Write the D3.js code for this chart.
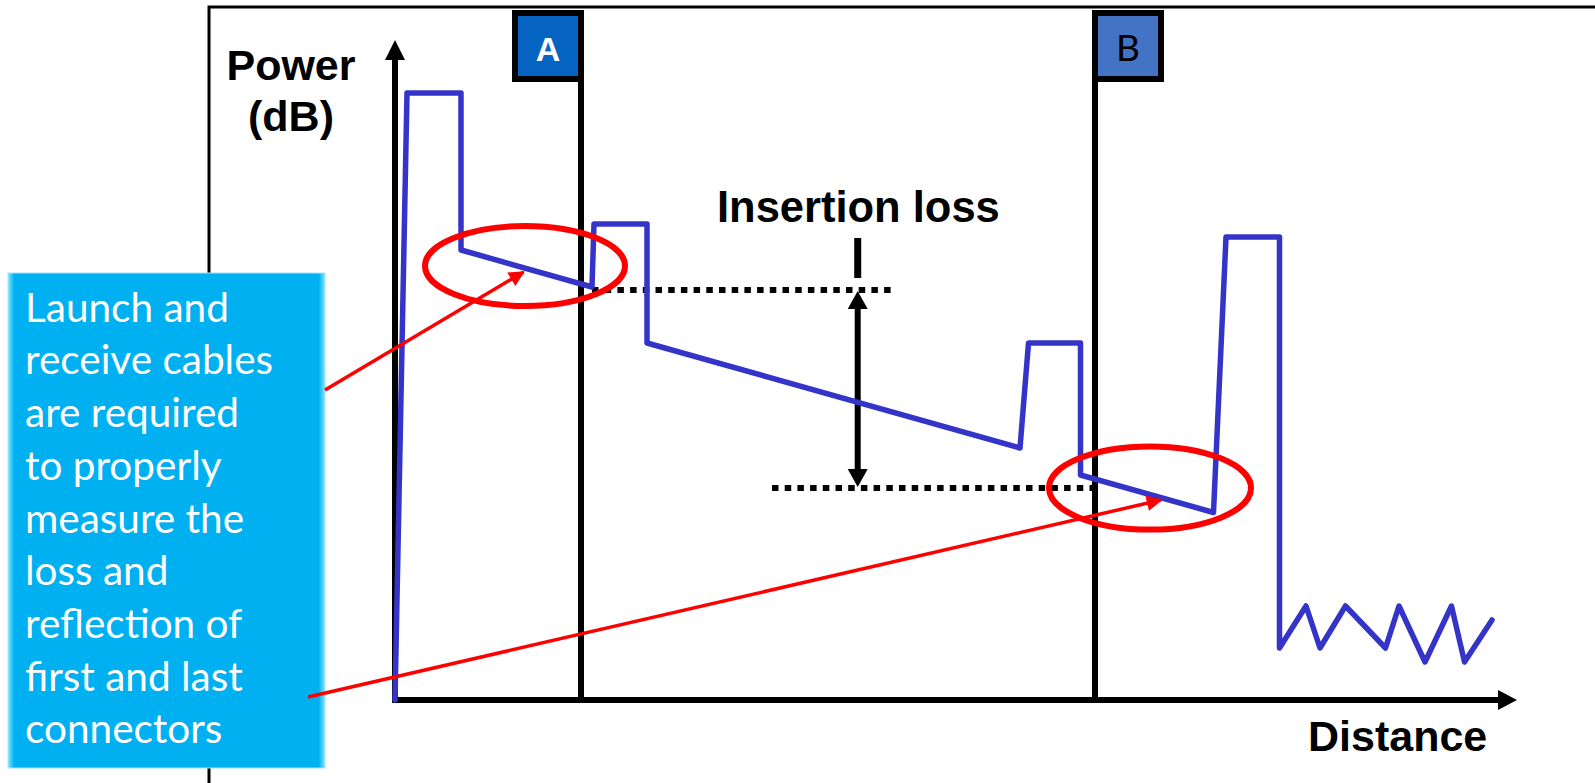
<!DOCTYPE html>
<html lang="en">
<head>
<meta charset="UTF-8">
<title>OTDR trace</title>
<script src="https://d3js.org/d3.v7.min.js"></script>
<style>
  html, body { margin: 0; padding: 0; background: #ffffff; }
  svg { display: block; }
</style>
</head>
<body>
<div id="chart"></div>
<script>
// OTDR trace (distance in km-like units, power in dB)
const distance = [0, 0.12, 0.66, 0.66, 1.97, 1.99, 2.52, 2.52, 6.25, 6.335, 6.855, 6.855,
                  8.185, 8.31, 8.845, 8.845, 9.11, 9.25, 9.505, 9.905, 10.04, 10.3, 10.565, 10.695, 10.97];
const power    = [0, 30.35, 30.35, 22.5, 20.65, 23.8, 23.8, 17.85, 12.6, 17.85, 17.85, 11.25,
                  9.375, 23.15, 23.15, 2.6, 4.7, 2.6, 4.7, 2.6, 4.7, 1.9, 4.7, 1.9, 4.0];

const connectorNames = ["A", "B"];
const connectorDistance = [1.86, 7.0];

// insertion loss reference levels (dB) and the span of each dotted line
const lossLevels = [20.5, 10.6];
const lossFrom = [1.97, 3.77];
const lossTo = [4.96, 6.97];
const lossArrowAt = 4.627;

// red ellipses around first / last connector: centre and radii in data units
const ringDistance = [1.30, 7.55];
const ringPower = [21.7, 10.6];
const ringRx = [1.0, 1.01];
const ringRy = [2.0, 2.08];

const calloutLines = ["Launch and", "receive cables", "are required", "to properly",
                      "measure the", "loss and", "reflection of", "first and last", "connectors"];

const width = 1595, height = 783;
const traceColor = "#3434c8";
const red = "#ff0000";

const x = d3.scaleLinear().domain([0, 11]).range([395, 1495]);
const y = d3.scaleLinear().domain([0, 33]).range([700, 40]);

const svg = d3.select("#chart").append("svg")
    .attr("width", width)
    .attr("height", height);

const defs = svg.append("defs");
defs.append("marker")
    .attr("id", "redHead")
    .attr("viewBox", "0 0 10 10")
    .attr("refX", 9).attr("refY", 5)
    .attr("markerWidth", 5).attr("markerHeight", 4.5)
    .attr("markerUnits", "strokeWidth")
    .attr("orient", "auto")
    .append("path").attr("d", "M0,0 L10,5 L0,10 z").attr("fill", red);

const edge = defs.append("linearGradient").attr("id", "boxEdge")
    .attr("x1", 0).attr("x2", 1).attr("y1", 0).attr("y2", 0);
edge.append("stop").attr("offset", "0").attr("stop-color", "#7fe6ff");
edge.append("stop").attr("offset", "0.02").attr("stop-color", "#00b0f0");
edge.append("stop").attr("offset", "0.98").attr("stop-color", "#00b0f0");
edge.append("stop").attr("offset", "1").attr("stop-color", "#7fe6ff");

// outer frame (runs off the right / bottom of the slide)
svg.append("rect")
    .attr("x", 209).attr("y", 7)
    .attr("width", 2000).attr("height", 2000)
    .attr("fill", "none").attr("stroke", "#000").attr("stroke-width", 3);

// connector markers
connectorNames.forEach((name, i) => {
    const cx = x(connectorDistance[i]);
    svg.append("line")
        .attr("x1", cx).attr("x2", cx)
        .attr("y1", 12).attr("y2", y(0))
        .attr("stroke", "#000").attr("stroke-width", 6);

    const bx = i === 0 ? cx - 66 : cx;
    svg.append("rect")
        .attr("x", bx).attr("y", 13)
        .attr("width", 66).attr("height", 66)
        .attr("fill", i === 0 ? "#0563c1" : "#4472c4")
        .attr("stroke", "#000").attr("stroke-width", 6);

    svg.append("text")
        .attr("x", bx + 33).attr("y", 61)
        .attr("text-anchor", "middle")
        .attr("font-family", i === 0 ? "Liberation Sans, Arial, sans-serif" : "Lato, sans-serif")
        .attr("font-weight", i === 0 ? "bold" : "normal")
        .attr("font-size", i === 0 ? 34 : 37)
        .attr("fill", i === 0 ? "#fff" : "#000")
        .text(name);
});

// axes with arrow heads
svg.append("line")
    .attr("x1", x(0)).attr("x2", x(0))
    .attr("y1", y(0) + 3).attr("y2", 58)
    .attr("stroke", "#000").attr("stroke-width", 6);
svg.append("path")
    .attr("d", `M${x(0) - 10},60 L${x(0)},40 L${x(0) + 10},60 Z`)
    .attr("fill", "#000");

svg.append("line")
    .attr("x1", x(0) - 3).attr("x2", 1500)
    .attr("y1", y(0)).attr("y2", y(0))
    .attr("stroke", "#000").attr("stroke-width", 6);
svg.append("path")
    .attr("d", `M1498,${y(0) - 10} L1517,${y(0)} L1498,${y(0) + 10} Z`)
    .attr("fill", "#000");

const boldFont = "Liberation Sans, Arial, sans-serif";
svg.append("text")
    .attr("x", 291).attr("y", 80)
    .attr("text-anchor", "middle")
    .attr("font-family", boldFont).attr("font-weight", "bold").attr("font-size", 43)
    .text("Power");
svg.append("text")
    .attr("x", 291).attr("y", 131)
    .attr("text-anchor", "middle")
    .attr("font-family", boldFont).attr("font-weight", "bold").attr("font-size", 43)
    .text("(dB)");
svg.append("text")
    .attr("x", 1308).attr("y", 751)
    .attr("font-family", boldFont).attr("font-weight", "bold").attr("font-size", 43)
    .text("Distance");

// insertion loss reference lines
lossLevels.forEach((lvl, i) => {
    svg.append("line")
        .attr("x1", x(lossFrom[i])).attr("x2", x(lossTo[i]))
        .attr("y1", y(lvl)).attr("y2", y(lvl))
        .attr("stroke", "#000").attr("stroke-width", 6)
        .attr("stroke-dasharray", "6.5,6.2");
});

const ax = x(lossArrowAt);
const yTop = y(lossLevels[0]), yBot = y(lossLevels[1]);
svg.append("line")
    .attr("x1", ax).attr("x2", ax)
    .attr("y1", yTop + 16).attr("y2", yBot - 16)
    .attr("stroke", "#000").attr("stroke-width", 6);
svg.append("path")
    .attr("d", `M${ax - 10},${yTop + 19} L${ax},${yTop + 1} L${ax + 10},${yTop + 19} Z`)
    .attr("fill", "#000");
svg.append("path")
    .attr("d", `M${ax - 10},${yBot - 19} L${ax},${yBot - 1} L${ax + 10},${yBot - 19} Z`)
    .attr("fill", "#000");
svg.append("line")
    .attr("x1", ax).attr("x2", ax)
    .attr("y1", yTop - 52).attr("y2", yTop - 12)
    .attr("stroke", "#000").attr("stroke-width", 7);
svg.append("text")
    .attr("x", 717).attr("y", 222)
    .attr("font-family", boldFont).attr("font-weight", "bold").attr("font-size", 43.5)
    .text("Insertion loss");

// the trace
const line = d3.line().x(d => x(d[0])).y(d => y(d[1]));
svg.append("path")
    .datum(d3.zip(distance, power))
    .attr("d", line)
    .attr("fill", "none")
    .attr("stroke", traceColor)
    .attr("stroke-width", 5.5)
    .attr("stroke-linejoin", "round")
    .attr("stroke-linecap", "round");

// ellipses around launch / receive cable sections
ringDistance.forEach((d, i) => {
    svg.append("ellipse")
        .attr("cx", x(d)).attr("cy", y(ringPower[i]))
        .attr("rx", x(ringRx[i]) - x(0))
        .attr("ry", y(0) - y(ringRy[i]))
        .attr("fill", "none")
        .attr("stroke", red).attr("stroke-width", 6);
});

// callout box
svg.append("rect")
    .attr("x", 8).attr("y", 273)
    .attr("width", 317).attr("height", 495)
    .attr("fill", "url(#boxEdge)")
    .attr("stroke", "#9fe8ff").attr("stroke-width", 1);

svg.append("g")
    .selectAll("text")
    .data(calloutLines)
    .join("text")
    .attr("x", 25)
    .attr("y", (d, i) => 321.7 + i * 52.7)
    .attr("font-family", "Lato, sans-serif")
    .attr("font-size", 40.5)
    .attr("fill", "#fff")
    .text(d => d);

// red pointers from the callout to each ellipse
const pointers = [
    [[325, 390], [x(1.285), y(21.4)]],
    [[308, 697], [x(7.66), y(10.0)]]
];
pointers.forEach(p => {
    svg.append("line")
        .attr("x1", p[0][0]).attr("y1", p[0][1])
        .attr("x2", p[1][0]).attr("y2", p[1][1])
        .attr("stroke", red).attr("stroke-width", 3.5)
        .attr("marker-end", "url(#redHead)");
});
</script>
</body>
</html>
